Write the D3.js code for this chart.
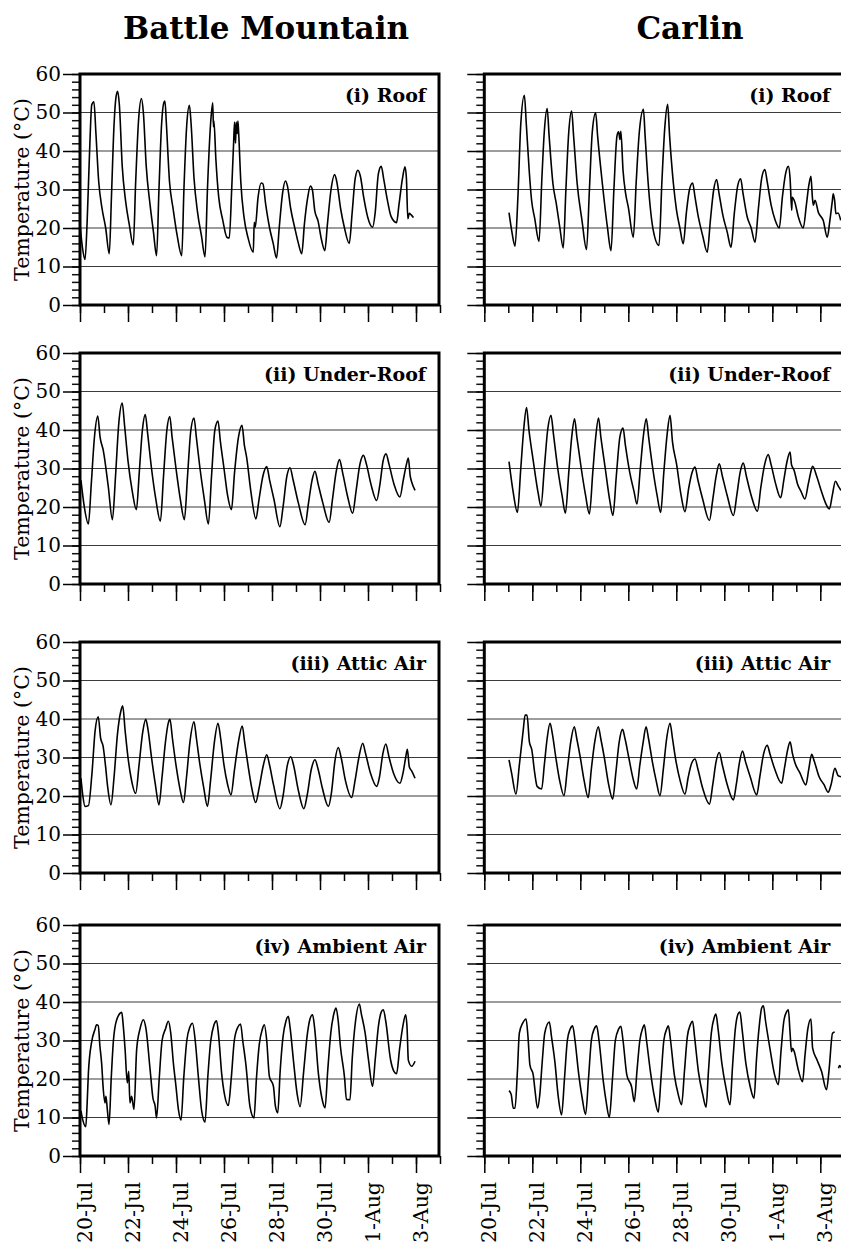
<!DOCTYPE html>
<html><head><meta charset="utf-8">
<script src="https://cdn.jsdelivr.net/npm/d3@7"></script>
<style>body{margin:0;background:#fff}svg{display:block}</style>
</head><body><svg id="chart" width="841" height="1255"></svg>
<script>
const sites = ["Battle Mountain", "Carlin"];
const panelLabels = ["(i) Roof", "(ii) Under-Roof", "(iii) Attic Air", "(iv) Ambient Air"];
const yTicks = [0, 10, 20, 30, 40, 50, 60];
const yGrid = [10, 20, 30, 40, 50];
const xTickLabels = ["20-Jul", "22-Jul", "24-Jul", "26-Jul", "28-Jul", "30-Jul", "1-Aug", "3-Aug"];

// [days since 20-Jul 00:00, temperature °C]
const bmRoof = [[0.00,21],[0.10,15],[0.21,11.8],[0.30,22],[0.40,40],[0.49,52],[0.58,52.8],[0.66,45],[0.78,32],[0.92,25],[1.07,20],[1.22,13.3],[1.31,28],[1.42,47],[1.50,54],[1.57,55.5],[1.64,52],[1.76,36],[1.90,27],[2.05,21],[2.22,15.6],[2.32,32],[2.44,48],[2.56,53.6],[2.64,50],[2.76,36],[2.92,26],[3.06,19],[3.19,12.8],[3.29,30],[3.40,47],[3.49,52.5],[3.54,53],[3.60,47],[3.73,32],[3.88,25],[4.05,18],[4.24,12.8],[4.33,30],[4.45,47],[4.56,51.9],[4.63,47],[4.75,33],[4.90,24],[5.06,18],[5.21,12.5],[5.31,30],[5.44,47],[5.53,52.5],[5.56,46.3],[5.58,47.8],[5.66,38],[5.78,28],[5.95,22],[6.12,17.6],[6.22,17.4],[6.32,30],[6.40,42],[6.44,47.5],[6.48,42],[6.51,47.5],[6.55,44.5],[6.58,47.8],[6.61,44.8],[6.70,32],[6.83,23],[7.00,17.5],[7.22,13.7],[7.26,21.5],[7.30,20.2],[7.42,28],[7.55,31.7],[7.62,31.5],[7.74,26],[7.90,20],[8.05,16],[8.19,12.2],[8.30,20],[8.44,29],[8.56,32.2],[8.64,31],[8.78,25],[8.95,20],[9.10,16],[9.24,13.3],[9.35,21],[9.49,28],[9.60,30.9],[9.68,30],[9.78,24.6],[9.92,21.8],[10.06,17],[10.20,14.1],[10.31,21],[10.46,30],[10.61,33.9],[10.70,32],[10.86,25],[11.02,20],[11.22,16],[11.34,24],[11.47,33],[11.58,35],[11.68,33.5],[11.82,28],[11.98,23],[12.19,20.2],[12.30,24],[12.43,34],[12.55,36],[12.66,32.5],[12.80,27.5],[12.96,23],[13.19,21.4],[13.29,26],[13.44,33],[13.54,35.9],[13.60,33],[13.66,22.4],[13.72,23.8],[13.80,23.4],[13.89,22.7]];
const caRoof = [[1.03,24],[1.15,19],[1.28,15.3],[1.40,28],[1.52,47],[1.67,54.5],[1.75,47],[1.87,35],[1.97,27.2],[2.10,22.5],[2.28,16.5],[2.40,33],[2.50,45],[2.62,51],[2.70,44],[2.86,31.5],[3.00,26.3],[3.15,20],[3.29,14.8],[3.40,30],[3.52,45],[3.64,50.4],[3.72,44],[3.87,31.5],[4.07,22],[4.26,14.4],[4.38,30],[4.50,45],[4.64,49.9],[4.72,44],[4.92,31.5],[5.13,20.2],[5.28,14.1],[5.40,30],[5.53,44],[5.60,45],[5.65,43],[5.69,45.1],[5.78,35],[5.89,28.9],[6.00,25.4],[6.21,17.6],[6.33,32],[6.46,45],[6.63,50.8],[6.70,44],[6.83,31.5],[7.04,19.4],[7.28,15.5],[7.40,32],[7.52,46],[7.64,52.1],[7.72,44],[7.88,31.5],[8.01,24.6],[8.15,20],[8.29,15.9],[8.42,24],[8.55,30],[8.68,31.7],[8.78,28],[8.92,22.8],[9.10,18],[9.29,13.7],[9.42,22],[9.56,30],[9.68,32.6],[9.78,29],[9.95,23],[10.12,19],[10.28,15],[10.42,24],[10.56,31],[10.68,32.8],[10.78,29],[10.95,23],[11.12,20],[11.28,16.3],[11.42,25],[11.56,33],[11.69,35.2],[11.79,31.9],[11.95,26],[12.12,22],[12.29,20],[12.42,28],[12.55,34],[12.67,36],[12.74,33],[12.81,24.6],[12.83,28],[12.94,26.7],[13.08,23],[13.29,20],[13.42,26],[13.52,31],[13.61,33.4],[13.67,28],[13.71,25.9],[13.78,27.2],[13.92,24],[14.12,22],[14.29,17.6],[14.40,22],[14.50,27],[14.54,28.9],[14.60,27],[14.65,23.7],[14.74,23.9],[14.85,22]];
const bmUnder = [[0.04,26.9],[0.18,20],[0.35,15.6],[0.47,26],[0.60,38],[0.74,43.6],[0.84,38],[0.97,34.7],[1.18,25.2],[1.35,16.7],[1.48,28],[1.62,42],[1.76,47],[1.86,41],[2.00,32],[2.18,24],[2.35,19.3],[2.47,29],[2.60,40],[2.72,44],[2.82,39],[2.98,30],[3.16,22],[3.35,16.3],[3.48,28],[3.62,40],[3.74,43.5],[3.84,38],[4.00,30],[4.18,22],[4.35,16.7],[4.48,28],[4.62,40],[4.75,43.1],[4.85,38],[5.00,30],[5.18,22],[5.35,15.6],[5.48,28],[5.62,40],[5.75,42.3],[5.85,37],[6.00,30],[6.15,23],[6.31,19.3],[6.44,29],[6.60,38],[6.75,41.2],[6.85,36],[6.94,33],[7.12,24],[7.33,16.9],[7.46,22],[7.62,28],[7.78,30.5],[7.90,27],[8.08,22],[8.33,14.9],[8.46,20],[8.62,28],[8.75,30.2],[8.88,27],[9.10,21],[9.38,15.4],[9.52,21],[9.67,27],[9.79,29.3],[9.92,26],[10.12,21],[10.38,16],[10.52,22],[10.67,29],[10.81,32.3],[10.94,29],[11.14,23],[11.36,18.4],[11.50,24],[11.66,31],[11.81,33.4],[11.94,31],[12.12,26],[12.36,21.7],[12.50,26],[12.63,32],[12.75,33.8],[12.88,31],[13.08,26],[13.33,22.6],[13.47,27],[13.60,31],[13.68,32.7],[13.76,28],[13.82,26.5],[13.96,24.3]];
const caUnder = [[1.03,31.8],[1.20,24],[1.38,18.6],[1.52,30],[1.64,40],[1.76,45.8],[1.86,40],[2.04,32],[2.25,23.4],[2.36,20.2],[2.50,30],[2.64,40],[2.78,43.8],[2.88,39],[3.06,30],[3.24,23],[3.38,18.4],[3.52,29],[3.64,38],[3.76,42.9],[3.86,38],[4.04,30],[4.22,23],[4.38,18.2],[4.52,29],[4.64,38],[4.76,43.1],[4.86,38],[5.04,30],[5.22,22],[5.36,17.8],[5.50,28],[5.65,38.2],[5.78,40.5],[5.88,36],[6.06,29],[6.24,24],[6.36,20.8],[6.50,30],[6.62,38],[6.75,42.9],[6.85,38],[7.02,30],[7.20,23],[7.35,18.6],[7.48,29],[7.62,39],[7.74,43.8],[7.84,37],[8.01,31.2],[8.20,23],[8.36,18.8],[8.52,25],[8.66,29],[8.78,30.4],[8.90,27],[9.10,22],[9.38,16.5],[9.52,22],[9.66,28],[9.79,31.2],[9.92,28],[10.12,23],[10.38,17.8],[10.52,23],[10.66,29],[10.79,31.4],[10.92,28],[11.12,23],[11.38,18.9],[11.52,25],[11.68,31],[11.83,33.6],[11.95,31],[12.14,26],[12.35,22.4],[12.48,27],[12.62,32],[12.74,34.3],[12.80,31],[12.91,29.5],[13.05,26],[13.20,24],[13.36,22.1],[13.50,26],[13.62,29.5],[13.68,30.6],[13.85,28],[14.05,24],[14.22,21],[14.38,19.5],[14.50,23],[14.63,26.7],[14.75,25.4],[14.86,24.3]];
const bmAttic = [[0.04,24.6],[0.12,20],[0.21,17.3],[0.35,17.5],[0.50,26],[0.63,37],[0.76,40.6],[0.86,35],[0.96,33],[1.06,28],[1.15,22.5],[1.29,17.7],[1.42,25],[1.56,36],[1.70,42],[1.78,43.4],[1.88,37],[2.00,30],[2.12,25],[2.32,20.7],[2.46,28],[2.60,36],[2.74,39.9],[2.84,37],[2.98,30],[3.14,23],[3.29,17.7],[3.42,25],[3.56,34],[3.68,39],[3.75,39.9],[3.85,35],[4.00,28],[4.16,22],[4.31,18.3],[4.44,25],[4.58,34],[4.75,39.3],[4.85,35],[5.00,28],[5.16,22],[5.31,17.3],[5.44,24],[5.60,34],[5.75,38.9],[5.86,35],[6.00,28],[6.15,23],[6.29,20.3],[6.44,27],[6.60,34],[6.76,38.2],[6.86,34],[7.00,28],[7.16,22],[7.32,18.3],[7.46,22],[7.64,28],[7.78,30.7],[7.90,28],[8.06,23],[8.33,16.7],[8.46,20],[8.64,28],[8.78,30.2],[8.90,28],[9.08,22],[9.33,16.7],[9.46,20],[9.64,27],[9.79,29.4],[9.92,27],[10.10,22],[10.35,17.3],[10.48,21],[10.62,29],[10.76,32.6],[10.88,30],[11.06,24],[11.32,19.6],[11.46,24],[11.62,30],[11.78,33.7],[11.90,31],[12.10,26],[12.36,22.5],[12.48,25],[12.62,31],[12.74,33.5],[12.88,30],[13.06,26],[13.33,23.3],[13.46,26],[13.57,30],[13.64,32.1],[13.72,27.6],[13.82,26.5],[13.96,24.6]];
const caAttic = [[1.03,29.4],[1.14,25.9],[1.32,20.5],[1.46,28],[1.62,37],[1.70,41],[1.78,41],[1.88,34],[1.98,32],[2.10,26],[2.20,22.5],[2.39,21.8],[2.50,28],[2.62,35],[2.74,38.9],[2.84,36],[2.98,30],[3.14,24],[3.32,20.1],[3.46,27],[3.60,34],[3.75,38],[3.85,35],[4.00,30],[4.16,24],[4.33,19.6],[4.46,27],[4.60,34],[4.75,38],[4.85,35],[5.00,30],[5.18,23],[5.35,19.2],[5.48,26],[5.62,34],[5.76,37.3],[5.86,35],[6.02,30],[6.18,25],[6.35,21.8],[6.48,28],[6.62,34],[6.74,38],[6.84,35],[7.00,29],[7.16,24],[7.32,20.1],[7.46,27],[7.60,35],[7.74,38.9],[7.84,35],[7.96,30],[8.16,24],[8.36,20.5],[8.50,25],[8.64,28.5],[8.78,29.6],[8.90,27],[9.10,22],[9.38,17.9],[9.52,23],[9.66,29],[9.79,31.3],[9.92,28],[10.12,23],[10.38,19],[10.50,23],[10.64,29],[10.76,31.7],[10.88,29],[11.08,25],[11.35,20.3],[11.48,25],[11.64,31],[11.79,33.2],[11.90,31],[12.10,27],[12.39,23.3],[12.50,27],[12.64,32],[12.74,34.1],[12.84,31],[12.95,28.5],[13.15,26],[13.40,22.9],[13.52,27],[13.64,30.8],[13.75,29],[13.95,25],[14.15,23],[14.33,21],[14.45,23],[14.61,27.2],[14.74,25.3],[14.86,25]];
const bmAmbient = [[0.04,11.7],[0.11,9.5],[0.24,7.6],[0.30,14],[0.35,21.6],[0.49,29.8],[0.62,32.8],[0.69,34.1],[0.76,33.9],[0.83,28.5],[0.90,24.2],[0.97,17.3],[1.04,13.8],[1.08,15.5],[1.14,12],[1.21,8.2],[1.30,20],[1.39,29.8],[1.53,35.4],[1.74,37.3],[1.80,34],[1.88,27.6],[1.97,19],[2.03,22],[2.08,13.8],[2.15,15.5],[2.25,12.1],[2.36,27.6],[2.50,33],[2.64,35.4],[2.75,33],[2.92,22.5],[3.04,15],[3.13,13],[3.19,9.9],[3.30,20],[3.42,30],[3.56,33],[3.68,35],[3.78,32],[3.89,24.2],[4.00,18],[4.10,12.1],[4.21,9.3],[4.32,20],[4.45,30],[4.58,33.5],[4.69,34.5],[4.80,30],[4.93,20.7],[5.07,11.7],[5.21,8.8],[5.32,20],[5.45,30],[5.58,34],[5.69,35.1],[5.78,31],[5.90,21.6],[6.02,16],[6.18,13.1],[6.30,20],[6.43,30],[6.58,33.5],[6.69,34.3],[6.78,30],[6.92,23.3],[7.08,12.9],[7.25,9.9],[7.35,20],[7.47,29],[7.60,33],[7.68,34.1],[7.78,30],[7.89,20.7],[8.06,18.1],[8.14,13],[8.24,11.2],[8.34,22],[8.46,31],[8.58,35],[8.68,36.3],[8.76,33],[8.89,25],[9.05,16],[9.17,12.8],[9.32,22],[9.46,31],[9.58,35.5],[9.69,36.7],[9.78,33],[9.93,21.6],[10.08,15],[10.21,12.5],[10.32,22],[10.45,32],[10.58,37],[10.67,38.4],[10.76,35],[10.85,28.5],[11.03,19.9],[11.10,14.7],[11.25,14.6],[11.34,25],[11.48,35],[11.64,39.5],[11.72,37],[11.88,32],[12.02,25],[12.19,18.1],[12.30,25],[12.44,34],[12.56,37.5],[12.64,38],[12.74,35],[12.94,25],[13.08,22],[13.19,21.4],[13.32,28],[13.46,34],[13.57,36.7],[13.63,33],[13.68,24.9],[13.82,23.3],[13.96,24.6]];
const caAmbient = [[1.03,17],[1.12,16],[1.21,12.4],[1.28,12.4],[1.38,22],[1.46,31.9],[1.60,34.5],[1.74,35.6],[1.82,31],[1.90,23.7],[2.04,21],[2.11,17.2],[2.22,12.4],[2.31,15.8],[2.42,25],[2.52,32],[2.71,34.8],[2.80,31],[2.94,24.5],[3.08,15.5],[3.22,10.7],[3.34,20],[3.46,30],[3.58,33],[3.68,33.8],[3.78,30],[3.92,22],[4.08,15],[4.22,10.8],[4.34,20],[4.46,30],[4.58,33],[4.68,33.8],[4.78,30],[4.96,19.3],[5.08,14],[5.21,10],[5.34,20],[5.46,30],[5.60,33],[5.69,33.7],[5.78,30],[5.94,21],[6.14,17.9],[6.25,14.1],[6.36,22],[6.48,30],[6.60,33.2],[6.67,34.1],[6.76,30],[6.92,22],[7.10,15],[7.25,11.4],[7.36,20],[7.48,30],[7.60,33],[7.67,33.8],[7.76,30],[7.92,21],[8.08,16],[8.22,13.3],[8.34,22],[8.46,31],[8.58,34],[8.68,35],[8.76,31],[8.92,22],[9.10,16],[9.24,12.7],[9.34,22],[9.46,32],[9.58,36],[9.65,36.9],[9.74,33],[9.90,24],[10.06,18],[10.24,13.3],[10.34,23],[10.46,33],[10.58,37],[10.65,37.4],[10.74,33],[10.90,24],[11.08,18],[11.24,15],[11.34,25],[11.46,34],[11.56,38.5],[11.63,39],[11.72,35],[11.90,28],[12.10,21],[12.25,18.5],[12.36,27],[12.48,35],[12.60,37.5],[12.67,38],[12.74,32],[12.80,27.1],[12.85,28],[12.92,27],[13.06,23],[13.26,19.3],[13.36,26],[13.48,33],[13.61,35.6],[13.68,28],[13.86,25],[14.05,22],[14.26,17.2],[14.36,22],[14.51,31.9],[14.60,32.2],null,[14.76,22.8],[14.80,23.5],[14.86,23]];

const seriesGrid = [
  [bmRoof, caRoof],
  [bmUnder, caUnder],
  [bmAttic, caAttic],
  [bmAmbient, caAmbient]
];

// ---------- layout ----------
const FONT = "'DejaVu Serif', 'Liberation Serif', serif";
const colX = [80, 484.3];
const colTitleX = [266, 690];
const rowTop = [74, 353, 642, 925];
const W = 359, H = 231;
const base = new Date(2001, 6, 20);
const toDate = d => new Date(base.getTime() + d * 864e5);

const x = d3.scaleTime().domain([base, toDate(15)]).range([0, 360]);
const y = d3.scaleLinear().domain([0, 60]).range([H, 0]);
const majorX = d3.timeDay.range(base, toDate(14.5), 2);
const minorX = d3.timeDay.range(base, toDate(15.2), 1);
const minorY = d3.range(0, 61, 2);

const svg = d3.select("#chart").style("font-family", FONT);

sites.forEach((s, c) => {
  svg.append("text")
    .attr("x", colTitleX[c]).attr("y", 39)
    .attr("text-anchor", "middle")
    .style("font-family", FONT).style("font-size", "31px").style("font-weight", "bold")
    .text(s);
});

const line = d3.line()
  .defined(d => d !== null)
  .x(d => x(toDate(d[0])))
  .y(d => y(d[1]))
  .curve(d3.curveMonotoneX);

seriesGrid.forEach((row, r) => {
  row.forEach((data, c) => {
    const g = svg.append("g").attr("transform", `translate(${colX[c]},${rowTop[r]})`);

    // gridlines
    g.selectAll("line.grid").data(yGrid).enter().append("line")
      .attr("class", "grid")
      .attr("x1", 0).attr("x2", W)
      .attr("y1", d => y(d)).attr("y2", d => y(d))
      .attr("stroke", "#3a3a3a").attr("stroke-width", 1.1);

    // y minor ticks
    const yMin = g.append("g").call(d3.axisLeft(y).tickValues(minorY).tickSize(8).tickFormat(""));
    yMin.select(".domain").remove();
    yMin.selectAll("line").attr("stroke", "#111").attr("stroke-width", 1.5);
    // y major ticks
    const yMaj = g.append("g").call(
      d3.axisLeft(y).tickValues(yTicks).tickSize(17).tickPadding(2)
        .tickFormat(c === 0 ? d3.format("d") : ""));
    yMaj.select(".domain").remove();
    yMaj.selectAll("line").attr("stroke", "#000").attr("stroke-width", 1.5);
    yMaj.selectAll("text").style("font-family", FONT).style("font-size", "20px").attr("fill", "#000");

    // x minor ticks
    const xMin = g.append("g").attr("transform", `translate(0,${H})`)
      .call(d3.axisBottom(x).tickValues(minorX).tickSize(8).tickFormat(""));
    xMin.select(".domain").remove();
    xMin.selectAll("line").attr("stroke", "#000").attr("stroke-width", 1.5);
    // x major ticks
    const xMaj = g.append("g").attr("transform", `translate(0,${H})`)
      .call(d3.axisBottom(x).tickValues(majorX).tickSize(17)
        .tickFormat(r === 3 ? (d, i) => xTickLabels[i] : ""));
    xMaj.select(".domain").remove();
    xMaj.selectAll("line").attr("stroke", "#000").attr("stroke-width", 1.5);
    if (r === 3) {
      xMaj.selectAll("text")
        .attr("transform", "rotate(-90)")
        .attr("x", -26).attr("y", 0).attr("dy", "0.56em")
        .style("text-anchor", "end")
        .style("font-family", FONT).style("font-size", "20.5px").attr("fill", "#000");
    }

    // data line
    g.append("path").datum(data)
      .attr("d", line)
      .attr("fill", "none").attr("stroke", "#000").attr("stroke-width", 1.6)
      .attr("stroke-linejoin", "round");

    // frame
    g.append("rect").attr("x", 0).attr("y", 0).attr("width", W).attr("height", H)
      .attr("fill", "none").attr("stroke", "#000").attr("stroke-width", 3);

    // panel label
    g.append("text")
      .attr("x", W - 13).attr("y", 28)
      .attr("text-anchor", "end")
      .style("font-family", FONT).style("font-size", "19px").style("font-weight", "bold")
      .text(panelLabels[r]);

    // y axis label
    if (c === 0) {
      g.append("text")
        .attr("transform", `translate(-51,${H / 2}) rotate(-90)`)
        .attr("text-anchor", "middle")
        .style("font-family", FONT).style("font-size", "20.5px")
        .text("Temperature (°C)");
    }
  });
});
</script>
</body></html>
